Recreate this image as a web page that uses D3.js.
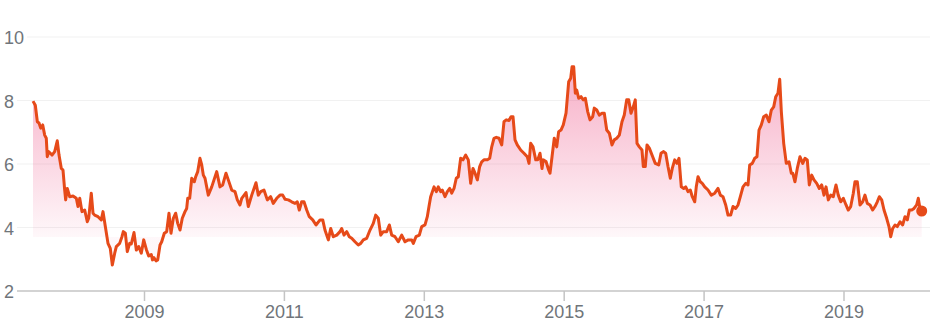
<!DOCTYPE html>
<html><head><meta charset="utf-8">
<script src="https://cdn.jsdelivr.net/npm/d3@7"></script>
<style>
html,body{margin:0;padding:0;background:#fff;}
svg{display:block;font-family:"Liberation Sans",Arial,sans-serif;}
</style></head>
<body><svg id="chart" width="939" height="335"></svg>
<script>
// decimal years
const years = [2007.406,2007.439,2007.468,2007.492,2007.516,2007.545,2007.573,2007.596,2007.610,2007.630,2007.653,2007.678,2007.716,2007.753,2007.778,2007.811,2007.835,2007.859,2007.873,2007.896,2007.931,2007.978,2008.025,2008.049,2008.074,2008.106,2008.145,2008.182,2008.202,2008.239,2008.264,2008.288,2008.335,2008.382,2008.407,2008.440,2008.478,2008.511,2008.540,2008.574,2008.597,2008.645,2008.678,2008.697,2008.726,2008.754,2008.788,2008.811,2008.850,2008.883,2008.917,2008.954,2008.989,2009.026,2009.060,2009.097,2009.114,2009.136,2009.164,2009.189,2009.222,2009.246,2009.283,2009.317,2009.350,2009.379,2009.412,2009.446,2009.475,2009.508,2009.540,2009.579,2009.603,2009.618,2009.646,2009.675,2009.712,2009.732,2009.761,2009.793,2009.818,2009.841,2009.865,2009.889,2009.912,2009.961,2010.032,2010.079,2010.118,2010.165,2010.198,2010.247,2010.294,2010.327,2010.365,2010.390,2010.451,2010.484,2010.533,2010.594,2010.627,2010.661,2010.708,2010.756,2010.804,2010.841,2010.890,2010.937,2010.976,2011.009,2011.056,2011.104,2011.152,2011.184,2011.213,2011.247,2011.280,2011.319,2011.356,2011.405,2011.452,2011.509,2011.548,2011.580,2011.628,2011.662,2011.699,2011.748,2011.795,2011.819,2011.852,2011.891,2011.928,2011.962,2012.009,2012.056,2012.091,2012.128,2012.177,2012.224,2012.271,2012.305,2012.342,2012.377,2012.414,2012.462,2012.500,2012.534,2012.581,2012.628,2012.677,2012.724,2012.771,2012.820,2012.843,2012.881,2012.929,2012.963,2013.010,2013.043,2013.067,2013.091,2013.139,2013.172,2013.200,2013.234,2013.257,2013.296,2013.329,2013.363,2013.392,2013.425,2013.457,2013.486,2013.520,2013.553,2013.592,2013.629,2013.663,2013.696,2013.725,2013.758,2013.792,2013.821,2013.853,2013.901,2013.935,2013.964,2013.996,2014.029,2014.068,2014.107,2014.139,2014.172,2014.211,2014.240,2014.268,2014.297,2014.329,2014.378,2014.425,2014.472,2014.497,2014.521,2014.554,2014.593,2014.621,2014.654,2014.683,2014.701,2014.740,2014.778,2014.797,2014.826,2014.858,2014.893,2014.921,2014.954,2014.987,2015.026,2015.064,2015.093,2015.112,2015.136,2015.159,2015.179,2015.207,2015.240,2015.273,2015.302,2015.336,2015.369,2015.407,2015.430,2015.465,2015.502,2015.540,2015.573,2015.608,2015.645,2015.683,2015.716,2015.751,2015.788,2015.826,2015.859,2015.893,2015.922,2015.955,2015.988,2016.016,2016.041,2016.074,2016.112,2016.131,2016.159,2016.184,2016.217,2016.265,2016.302,2016.351,2016.384,2016.417,2016.451,2016.484,2016.517,2016.545,2016.580,2016.613,2016.641,2016.674,2016.708,2016.737,2016.770,2016.803,2016.831,2016.866,2016.888,2016.913,2016.946,2016.974,2017.009,2017.056,2017.103,2017.152,2017.199,2017.232,2017.270,2017.309,2017.342,2017.380,2017.413,2017.452,2017.485,2017.518,2017.556,2017.595,2017.628,2017.652,2017.689,2017.723,2017.756,2017.785,2017.818,2017.852,2017.889,2017.928,2017.961,2017.995,2018.024,2018.056,2018.081,2018.104,2018.138,2018.175,2018.214,2018.247,2018.267,2018.299,2018.332,2018.371,2018.410,2018.442,2018.475,2018.504,2018.538,2018.571,2018.610,2018.647,2018.681,2018.714,2018.743,2018.776,2018.810,2018.847,2018.886,2018.918,2018.953,2018.990,2019.029,2019.061,2019.096,2019.133,2019.157,2019.190,2019.229,2019.267,2019.300,2019.333,2019.372,2019.410,2019.443,2019.476,2019.505,2019.539,2019.572,2019.610,2019.643,2019.668,2019.696,2019.729,2019.762,2019.801,2019.839,2019.872,2019.905,2019.934,2019.968,2020.001,2020.039,2020.062,2020.086,2020.111];
const values = [7.98,7.85,7.33,7.29,7.13,7.23,6.91,6.81,6.23,6.39,6.34,6.28,6.39,6.73,6.28,5.86,5.81,5.18,4.87,5.23,4.97,4.99,4.92,4.66,4.92,4.50,4.55,4.18,4.29,5.08,4.45,4.39,4.34,4.24,4.50,4.03,3.50,3.34,2.82,3.19,3.40,3.50,3.71,3.87,3.82,3.24,3.50,3.48,3.84,3.29,3.40,3.19,3.61,3.31,3.10,3.15,2.98,3.05,2.95,2.98,3.45,3.55,3.82,3.87,4.45,3.82,4.29,4.45,4.13,3.92,4.29,4.50,4.60,4.92,4.92,5.55,5.44,5.60,5.76,6.18,5.97,5.65,5.55,5.28,5.02,5.28,5.76,5.28,5.34,5.71,5.50,5.18,5.13,4.87,4.71,4.92,5.10,4.66,5.02,5.41,5.02,5.13,5.18,4.87,4.97,4.76,4.92,5.02,5.02,4.89,4.87,4.81,4.76,4.81,4.55,4.81,4.81,4.55,4.34,4.24,4.08,4.24,4.24,3.92,3.61,3.97,3.71,3.76,3.87,3.97,3.76,3.87,3.71,3.66,3.55,3.45,3.50,3.61,3.66,3.92,4.13,4.39,4.29,3.76,3.87,3.87,4.08,3.76,3.71,3.55,3.76,3.55,3.61,3.61,3.50,3.71,3.76,4.03,4.08,4.34,4.66,4.97,5.28,5.13,5.28,5.13,5.18,4.97,5.13,5.23,5.08,5.23,5.55,5.60,6.18,6.13,6.28,6.13,5.39,5.86,5.71,5.50,5.92,6.07,6.13,6.13,6.18,6.54,6.81,6.84,6.81,6.60,7.33,7.39,7.37,7.49,7.49,6.76,6.60,6.44,6.34,6.23,6.02,6.65,6.54,6.13,6.13,6.34,5.86,6.13,6.08,5.81,5.71,6.23,6.81,6.54,7.02,7.07,7.23,7.60,8.59,8.70,9.06,9.06,8.23,8.33,8.07,8.12,8.02,8.07,7.65,7.39,7.49,7.76,7.70,7.54,7.60,7.60,7.07,6.97,6.60,6.76,6.81,6.91,7.33,7.54,8.02,8.02,7.60,7.80,8.02,6.65,6.54,6.44,5.92,5.92,6.60,6.50,6.23,6.02,5.97,6.34,6.39,6.34,5.92,5.55,5.86,6.13,6.02,6.18,5.28,5.23,5.28,5.13,5.18,4.97,4.81,5.28,5.60,5.44,5.39,5.28,5.18,5.02,5.08,5.23,5.02,4.97,4.71,4.39,4.39,4.66,4.60,4.71,4.97,5.28,5.39,5.34,5.97,6.02,6.18,6.23,7.07,7.23,7.49,7.54,7.33,7.70,7.80,8.12,8.23,8.67,7.65,6.65,6.02,6.07,5.71,5.71,5.44,5.86,6.23,6.02,6.18,6.13,5.34,5.65,5.50,5.39,5.23,5.34,5.02,5.28,4.87,5.02,4.97,5.34,5.02,4.81,4.92,4.71,4.55,4.66,5.08,5.44,5.44,4.71,4.81,5.02,4.76,4.71,4.55,4.66,4.81,4.97,4.87,4.55,4.29,4.03,3.71,3.97,4.08,4.03,4.18,4.08,4.34,4.24,4.55,4.55,4.60,4.71,4.92,4.60,4.52];
const yTicks = [2, 4, 6, 8, 10];
const xTickYears = [2009, 2011, 2013, 2015, 2017, 2019];
const xTickLabels = ["2009", "2011", "2013", "2015", "2017", "2019"];
const areaBase = 3.7;

const data = years.map((t, i) => ({t, v: values[i]}));
const svg = d3.select("#chart");
const x = d3.scaleLinear().domain([2009, 2019]).range([144.5, 844]);
const y = d3.scaleLinear().domain([2, 10]).range([291, 37]);
const lineColor = "#e64a19";
const textColor = "#70757a";

// gradient
const defs = svg.append("defs");
const grad = defs.append("linearGradient").attr("id", "fillGrad")
  .attr("gradientUnits", "userSpaceOnUse")
  .attr("x1", 0).attr("x2", 0)
  .attr("y1", y(d3.max(values))).attr("y2", y(areaBase));
grad.append("stop").attr("offset", "0%").attr("stop-color", "#ec407a").attr("stop-opacity", 0.42);
grad.append("stop").attr("offset", "100%").attr("stop-color", "#ec407a").attr("stop-opacity", 0.04);

// y labels and gridlines
const gY = svg.append("g");
yTicks.forEach(v => {
  const txt = gY.append("text")
    .attr("x", 4).attr("y", y(v) + 7)
    .attr("font-size", 18).attr("fill", textColor)
    .text(v);
  const w = txt.node().getComputedTextLength();
  gY.insert("line", "text")
    .attr("x1", 4 + w + 3).attr("x2", 930)
    .attr("y1", y(v)).attr("y2", y(v))
    .attr("stroke", v === 2 ? "#c4c4c4" : "#f1f1f1")
    .attr("stroke-width", v === 2 ? 1.5 : 1);
});

// x ticks
const gX = svg.append("g");
xTickYears.forEach((t, i) => {
  gX.append("line")
    .attr("x1", x(t)).attr("x2", x(t))
    .attr("y1", y(2)).attr("y2", y(2) + 10)
    .attr("stroke", "#c4c4c4").attr("stroke-width", 1.5);
  gX.append("text")
    .attr("x", x(t)).attr("y", 318)
    .attr("text-anchor", "middle")
    .attr("font-size", 18).attr("fill", textColor)
    .text(xTickLabels[i]);
});

// area
const area = d3.area().x(d => x(d.t)).y0(y(areaBase)).y1(d => y(d.v));
svg.append("path").datum(data).attr("d", area).attr("fill", "url(#fillGrad)");

// line
const line = d3.line().x(d => x(d.t)).y(d => y(d.v));
svg.append("path").datum(data).attr("d", line)
  .attr("fill", "none").attr("stroke", lineColor)
  .attr("stroke-width", 3).attr("stroke-linejoin", "round");

// end point
const last = data[data.length - 1];
svg.append("circle").attr("cx", x(last.t)).attr("cy", y(last.v)).attr("r", 5.5).attr("fill", lineColor);
</script>
</body></html>
